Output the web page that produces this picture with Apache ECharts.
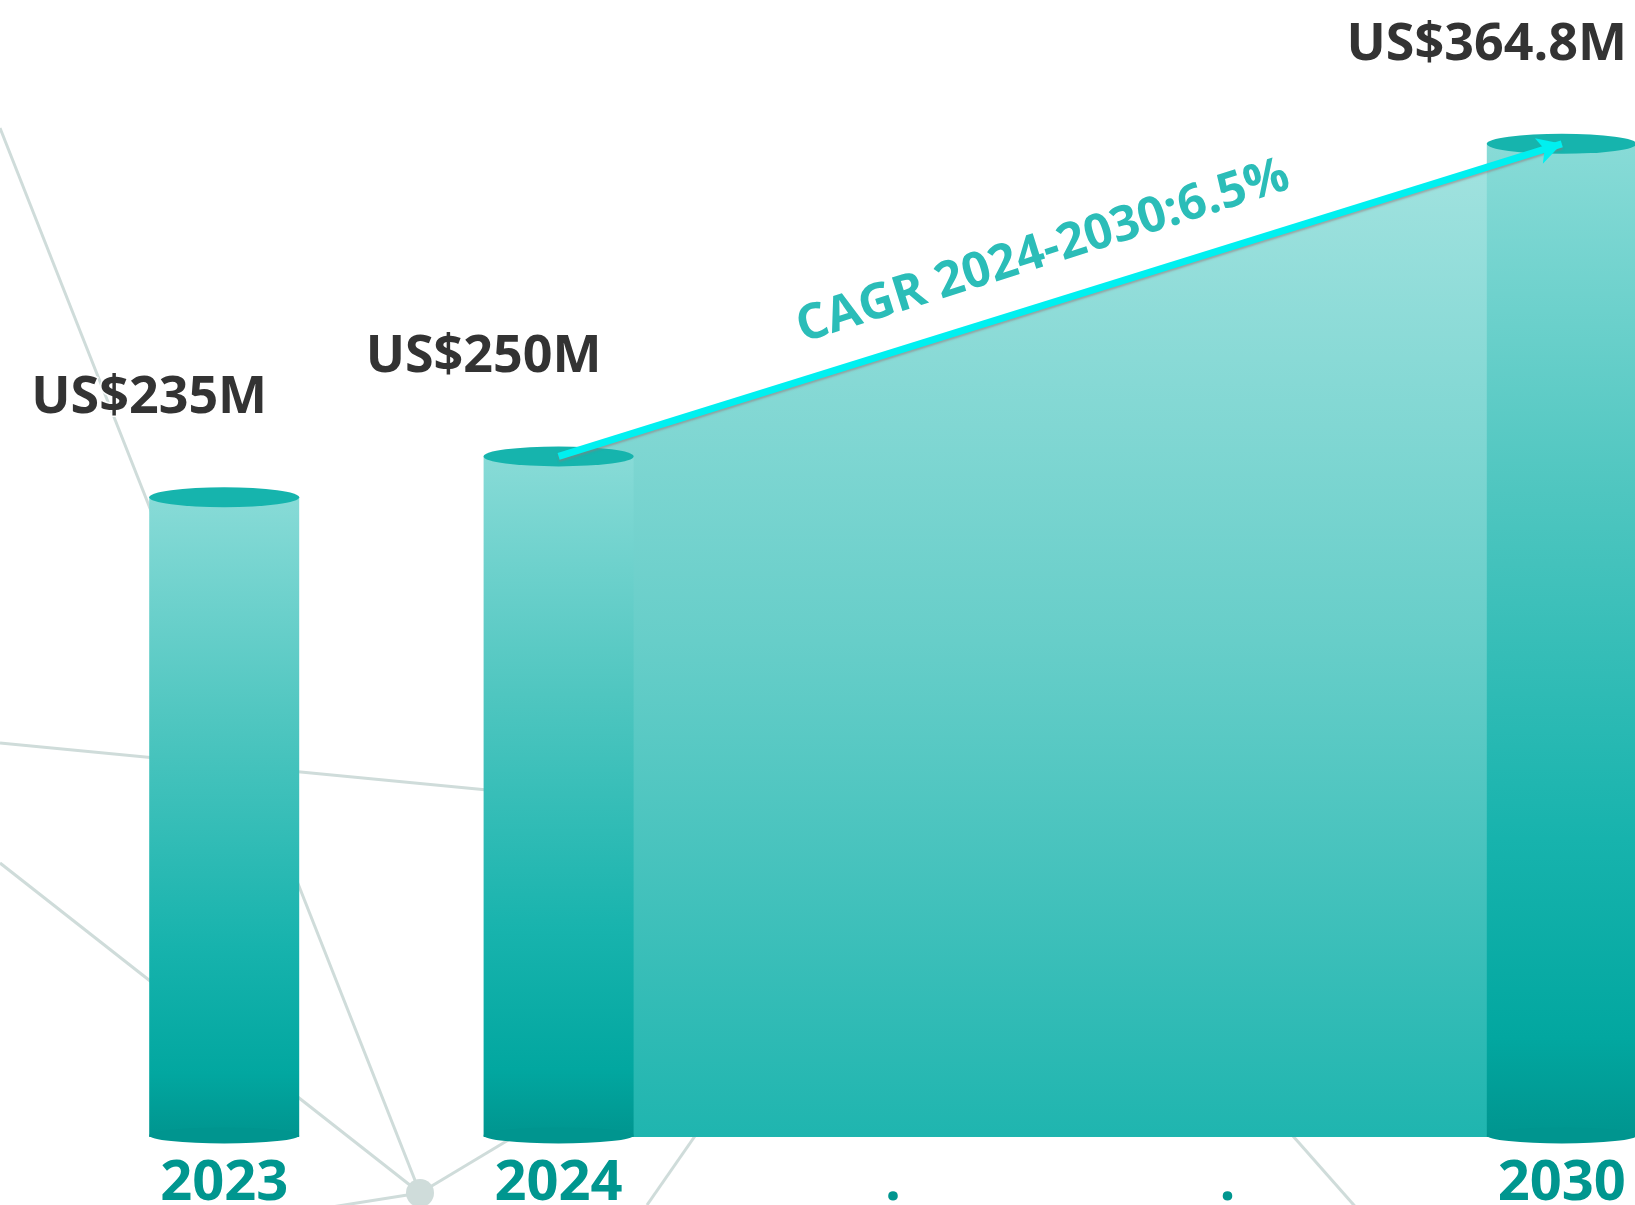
<!DOCTYPE html>
<html lang="en">
  <head>
    <meta charset="utf-8">
    <title>Market size CAGR 2024-2030</title>
    <style>
      html, body { margin: 0; padding: 0; background: #ffffff; }
      #main { width: 1635px; height: 1205px; }
    </style>
  </head>
  <body>
    <div id="main"></div>

    <script src="https://cdn.jsdelivr.net/npm/echarts@6/dist/echarts.min.js"></script>
    <script>
        // data
        var years = ['2023', '2024', '.', '.', '2030'];
        var values = [235, 250, null, null, 364.8];
        var valueLabels = ['US$235M', 'US$250M', '', '', 'US$364.8M'];
        var cagrFrom = ['2024', 250];
        var cagrTo = ['2030', 364.8];
        var cagrText = 'CAGR 2024-2030:6.5%';

        var chart = echarts.init(document.getElementById('main'), null, {renderer: 'canvas'});

        var barColor = new echarts.graphic.LinearGradient(0, 0, 0, 1, [
            {offset: 0, color: '#88dbd7'},
            {offset: 0.35, color: '#4fc6c0'},
            {offset: 0.7, color: '#17b3ad'},
            {offset: 0.9, color: '#02a7a0'},
            {offset: 1, color: '#00958f'}
        ]);
        var areaColor = new echarts.graphic.LinearGradient(0, 0, 0, 1, [
            {offset: 0, color: '#a3e3e0'},
            {offset: 0.5, color: '#67cec9'},
            {offset: 1, color: '#1fb5af'}
        ]);

        // background network decoration
        var net = '#cfdcda';
        var decoLines = [
            [0, 128, 420, 1193],
            [0, 743, 560, 797],
            [0, 863, 420, 1193],
            [420, 1193, 600, 1085],
            [420, 1193, 300, 1212],
            [647, 1205, 720, 1100],
            [1270, 1110, 1360, 1212]
        ];
        var graphics = decoLines.map(function (l) {
            return {
                type: 'line', z: 0, silent: true,
                shape: {x1: l[0], y1: l[1], x2: l[2], y2: l[3]},
                style: {stroke: net, lineWidth: 3}
            };
        });
        graphics.push({
            type: 'circle', z: 0, silent: true,
            shape: {cx: 420, cy: 1193, r: 14},
            style: {fill: net}
        });
        graphics.push({
            type: 'text', z: 100, silent: true,
            x: 1043, y: 252,
            rotation: 17.5 * Math.PI / 180,
            style: {
                text: cagrText,
                fill: '#2bbdb8',
                font: 'bold 49px "Open Sans"',
                align: 'center',
                verticalAlign: 'middle'
            }
        });

        var option = {
            backgroundColor: '#ffffff',
            animation: false,
            graphic: graphics,
            grid: {left: 57, top: 48, width: 1672, height: 1089, containLabel: false, outerBoundsMode: 'none'},
            xAxis: {
                type: 'category',
                data: years,
                axisLine: {show: false},
                axisTick: {show: false},
                axisLabel: {
                    interval: 0,
                    margin: 19,
                    color: '#00968f',
                    fontFamily: 'Open Sans',
                    fontWeight: 'bold',
                    fontSize: 56
                }
            },
            yAxis: {
                type: 'value',
                min: 0,
                max: 400,
                show: false
            },
            series: [
                {
                    // filled slope between 2024 and 2030
                    type: 'line',
                    z: 1,
                    data: [cagrFrom, cagrTo],
                    symbol: 'none',
                    lineStyle: {width: 0},
                    areaStyle: {color: areaColor, opacity: 1},
                    silent: true,
                    markLine: {
                        silent: true,
                        z: 6,
                        symbol: ['none', 'arrow'],
                        symbolSize: [20, 24],
                        label: {show: false},
                        lineStyle: {
                            color: '#00f0f0', width: 7, type: 'solid',
                            shadowColor: 'rgba(150,120,120,0.55)', shadowBlur: 2, shadowOffsetY: 2
                        },
                        data: [[{coord: cagrFrom}, {coord: cagrTo}]]
                    }
                },
                {
                    type: 'bar',
                    z: 2,
                    barWidth: 150,
                    data: values,
                    itemStyle: {color: barColor},
                    label: {
                        show: true,
                        position: 'top',
                        distance: 0,
                        offset: [-75, -99],
                        verticalAlign: 'middle',
                        color: '#333333',
                        fontFamily: 'Open Sans',
                        fontWeight: 'bold',
                        fontSize: 52,
                        textBorderColor: 'rgba(255,255,255,0.9)',
                        textBorderWidth: 3,
                        formatter: function (p) { return valueLabels[p.dataIndex]; }
                    }
                },
                {
                    // cylinder top
                    type: 'pictorialBar',
                    z: 3,
                    barWidth: 150,
                    barGap: '-100%',
                    symbol: 'circle',
                    symbolSize: [150, 20],
                    symbolPosition: 'end',
                    symbolOffset: [0, '-50%'],
                    itemStyle: {color: '#16b4ad'},
                    silent: true,
                    data: values
                },
                {
                    // cylinder bottom
                    type: 'pictorialBar',
                    z: 3,
                    barWidth: 150,
                    barGap: '-100%',
                    symbol: 'circle',
                    symbolSize: [150, 16],
                    symbolPosition: 'start',
                    symbolOffset: [0, '40%'],
                    itemStyle: {color: '#00958f'},
                    silent: true,
                    data: values
                }
            ]
        };

        chart.setOption(option);
    </script>
  </body>
</html>
